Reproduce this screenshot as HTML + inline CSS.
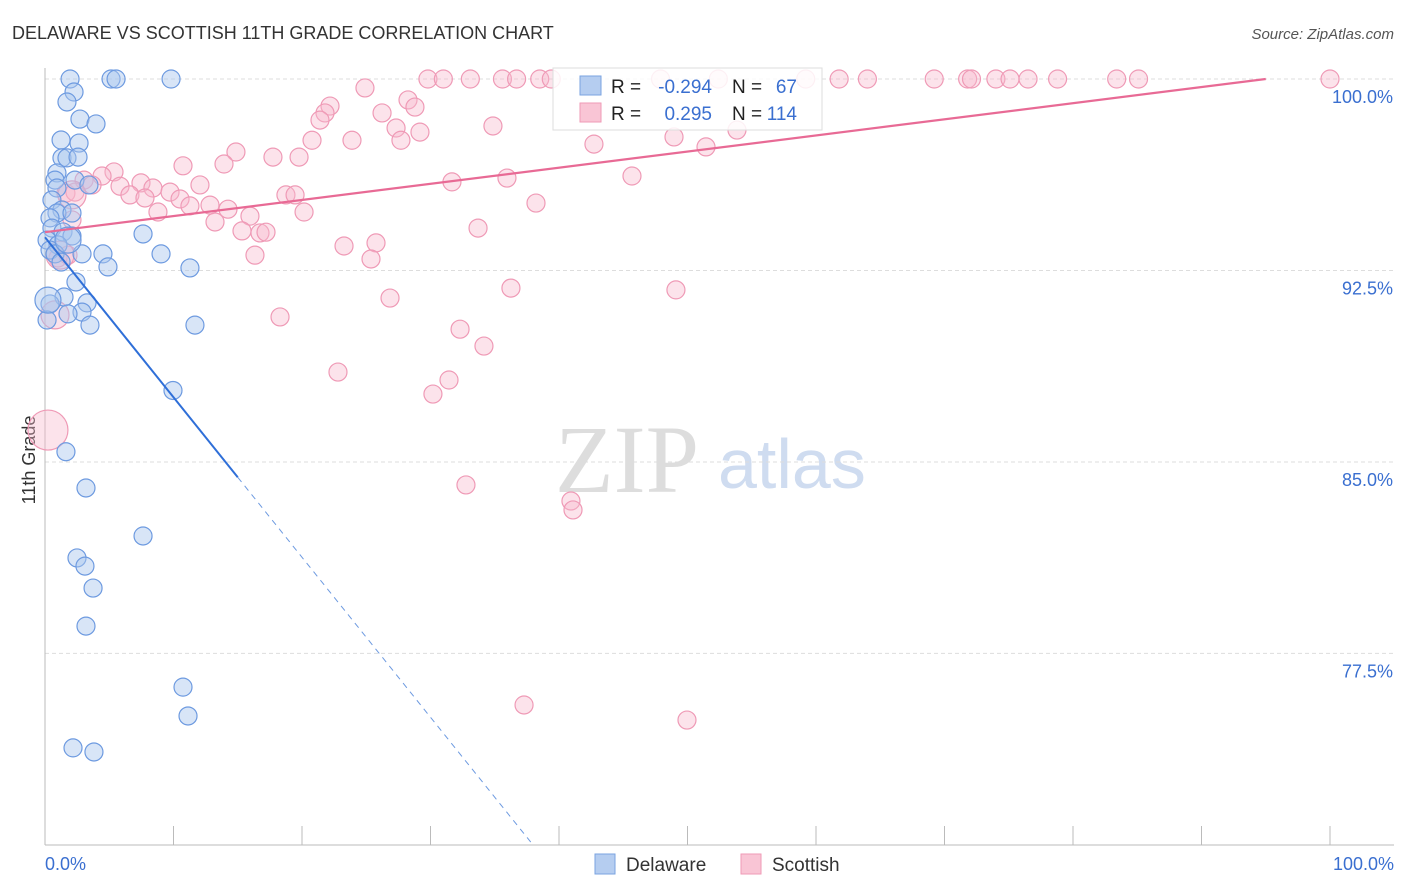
<!DOCTYPE html>
<html><head><meta charset="utf-8"><style>
body{margin:0;background:#fff;font-family:"Liberation Sans",sans-serif;}
svg{display:block}
</style></head><body>
<svg id="c" width="1406" height="892">
<text x="12" y="39" font-size="18" fill="#333">DELAWARE VS SCOTTISH 11TH GRADE CORRELATION CHART</text>
<text x="1394" y="39" font-size="15" fill="#555" text-anchor="end" font-style="italic">Source: ZipAtlas.com</text>
<text x="35" y="460" font-size="18" fill="#333" text-anchor="middle" transform="rotate(-90 35 460)">11th Grade</text>
<text x="555" y="492" font-size="96" fill="#ddd" font-family="Liberation Serif,serif">ZIP</text>
<text x="718" y="488" font-size="70" fill="#cfdcf0">atlas</text>
<g id="grid"></g><g id="pts"></g><g id="lines"></g>
<g>
<rect x="553" y="68" width="269" height="62" fill="#fff" fill-opacity="0.85" stroke="#ddd"/>
<rect x="580" y="76" width="21" height="19" fill="#b5cdf0" stroke="#7aa3e0"/>
<rect x="580" y="103" width="21" height="19" fill="#f9c5d5" stroke="#ef9ab6"/>
<text x="611" y="93" font-size="19" fill="#222">R =</text>
<text x="712" y="93" font-size="19" fill="#3a6fd0" text-anchor="end">-0.294</text>
<text x="732" y="93" font-size="19" fill="#222">N =</text>
<text x="797" y="93" font-size="19" fill="#3a6fd0" text-anchor="end">67</text>
<text x="611" y="120" font-size="19" fill="#222">R =</text>
<text x="712" y="120" font-size="19" fill="#3a6fd0" text-anchor="end">0.295</text>
<text x="732" y="120" font-size="19" fill="#222">N =</text>
<text x="797" y="120" font-size="19" fill="#3a6fd0" text-anchor="end">114</text>
</g>
<g>
<rect x="595" y="854" width="20" height="20" fill="#b5cdf0" stroke="#7aa3e0"/>
<text x="626" y="871" font-size="19" fill="#333">Delaware</text>
<rect x="741" y="854" width="20" height="20" fill="#f9c5d5" stroke="#ef9ab6"/>
<text x="772" y="871" font-size="19" fill="#333">Scottish</text>
</g>
</svg>
<script>
const yTicks=[100,92.5,85,77.5];
const yTickLabels=["100.0%","92.5%","85.0%","77.5%"];
const delX=[1.95,5.14,5.53,9.81,2.26,1.71,2.72,3.97,1.25,2.65,1.32,1.71,2.57,0.93,0.78,0.93,2.33,3.42,0.54,1.32,0.93,0.39,2.1,0.54,1.4,2.1,0.16,1.01,0.39,0.78,2.88,4.51,9.03,1.25,4.9,11.28,2.41,1.48,3.27,0.39,2.88,1.79,0.16,3.5,11.67,9.96,1.63,3.19,7.63,2.49,3.11,3.74,3.19,10.74,11.13,2.18,3.81,7.63,1.79,0.23];
const delY=[100,100,100,100,99.49,99.1,98.43,98.24,97.61,97.49,96.91,96.91,96.94,96.32,96.04,95.73,96.04,95.85,95.26,94.87,94.75,94.56,94.75,94.16,94.01,93.85,93.69,93.5,93.3,93.15,93.15,93.15,93.15,92.83,92.64,92.6,92.05,91.46,91.23,91.19,90.87,90.8,90.56,90.36,90.36,87.8,85.4,83.98,82.1,81.24,80.92,80.06,78.57,76.18,75.05,73.8,73.64,93.93,93.69,91.34];
const scoX=[100,29.8,31,33.1,35.6,36.7,38.5,39.4,47.9,52.4,59.2,61.8,64,69.2,71.8,72.1,74,75.1,76.5,78.8,83.4,85.1,24.9,22.18,21.79,21.4,28.25,28.79,26.23,27.32,29.18,27.7,23.89,20.78,34.86,53.85,42.72,48.95,51.44,14.86,17.74,19.77,10.74,13.93,45.68,5.37,4.44,3.04,3.66,5.84,7.47,8.4,9.73,12.06,1.63,2.33,6.61,7.78,18.75,19.46,31.67,35.95,38.21,10.51,11.28,12.84,14.24,15.95,20.16,8.79,13.23,15.33,16.73,17.2,33.7,23.27,25.76,16.34,25.37,1.01,1.79,2.1,26.85,36.26,49.1,18.29,32.3,34.16,22.8,31.44,30.19,32.76,40.93,41.09,37.28,49.96,0.23,0.78,1.17,2.1];
const scoY=[100,100,100,100,100,100,100,100,100,100,100,100,100,100,100,100,100,100,100,100,100,100,99.65,98.94,98.67,98.39,99.18,98.9,98.67,98.08,97.92,97.6,97.6,97.6,98.16,98,97.45,97.73,97.34,97.14,96.94,96.94,96.6,96.67,96.2,96.36,96.2,96.04,95.85,95.8,95.93,95.73,95.57,95.85,95.53,95.57,95.46,95.34,95.46,95.46,95.97,96.12,95.14,95.3,95.03,95.06,94.9,94.63,94.79,94.79,94.4,94.05,93.97,94.0,94.16,93.46,93.58,93.1,92.95,92.99,93.1,94.48,91.42,91.81,91.74,90.68,90.2,89.54,88.52,88.21,87.66,84.1,83.47,83.12,75.48,74.89,86.25,90.76,93.1,95.46];
const delReg=[0,93.8,15,84.4];
const scoReg=[0,94.0,95,100];
const X=v=>45+v*12.85, Y=v=>79+(100-v)*25.53;
const NS='http://www.w3.org/2000/svg';
function mk(p,t,a){const e=document.createElementNS(NS,t);for(const k in a)e.setAttribute(k,a[k]);p.appendChild(e);return e;}
const grid=document.getElementById('grid');
yTicks.forEach((t,i)=>{
 const l=mk(grid,'line',{x1:45,x2:1394,y1:Y(t),y2:Y(t),stroke:'#ddd','stroke-dasharray':'4,3'});
 
 
 const tx=mk(grid,'text',{x:1393,y:Y(t)+24,'font-size':18,fill:'#3a6fd0','text-anchor':'end'});tx.textContent=yTickLabels[i];
 
 
});
mk(grid,'line',{x1:45,x2:45,y1:68,y2:845,stroke:'#bbb'});
mk(grid,'line',{x1:45,x2:1394,y1:845,y2:845,stroke:'#bbb'});
for(let i=0;i<=10;i++){mk(grid,'line',{x1:X(i*10),x2:X(i*10),y1:826,y2:845,stroke:'#bbb'});}
const t0=mk(grid,'text',{x:45,y:870,'font-size':18,fill:'#3a6fd0'});t0.textContent='0.0%';


const t1=mk(grid,'text',{x:1394,y:870,'font-size':18,fill:'#3a6fd0','text-anchor':'end'});t1.textContent='100.0%';


const pts=document.getElementById('pts');
scoX.forEach((x,i)=>{const r=i>=96?(i==96?20:14):9;
 const c=mk(pts,'circle',{cx:X(x),cy:Y(scoY[i]),r:r,fill:'#f7b8cc','fill-opacity':0.4,stroke:'#ef9ab6','stroke-width':1.2});
 
 });
delX.forEach((x,i)=>{const r=i>=58?13:9;
 const c=mk(pts,'circle',{cx:X(x),cy:Y(delY[i]),r:r,fill:'#a9c6ee','fill-opacity':0.45,stroke:'#6d9ae0','stroke-width':1.2});
 
 });
const lines=document.getElementById('lines');
const sl=(delReg[3]-delReg[1])/(delReg[2]-delReg[0]);
const b1=mk(lines,'line',{x1:X(delReg[0]),y1:Y(delReg[1]),x2:X(delReg[2]),y2:Y(delReg[3]),stroke:'#2f6fd8','stroke-width':2});


const xe=37.8;
const b2=mk(lines,'line',{x1:X(delReg[2]),y1:Y(delReg[3]),x2:X(xe),y2:Y(delReg[1]+sl*xe),stroke:'#6d9ae0','stroke-width':1,'stroke-dasharray':'6,5'});


const p1=mk(lines,'line',{x1:X(scoReg[0]),y1:Y(scoReg[1]),x2:X(scoReg[2]),y2:Y(scoReg[3]),stroke:'#e86a95','stroke-width':2.2});


</script>
</body></html>
